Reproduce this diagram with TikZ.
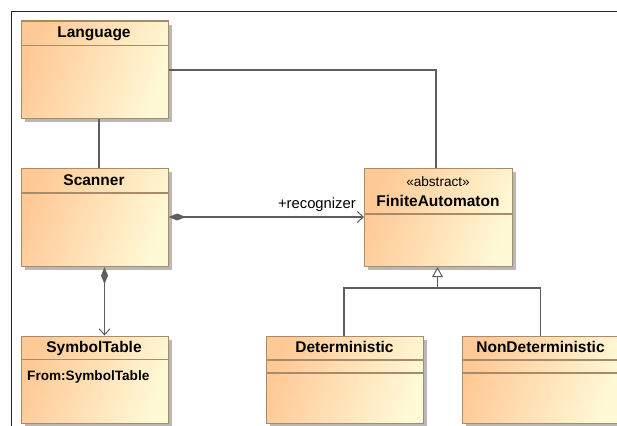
\documentclass[tikz,border=0pt]{standalone}
\usepackage{fontspec}
\setmainfont{Liberation Sans}
\usetikzlibrary{arrows.meta,shadows}

\definecolor{peach}{HTML}{FFC995}
\definecolor{cream}{HTML}{FFF9D6}
\definecolor{edge}{HTML}{A88B68}
\definecolor{wire}{HTML}{5E5E5E}
\definecolor{shade}{HTML}{B8B8B8}

\begin{document}
\begin{tikzpicture}[x=1pt,y=-1pt,
  classbox/.style={draw=edge, line width=1.1pt, inner sep=0pt, anchor=north west,
    left color=peach, right color=cream, shading angle=70,
    general shadow={fill=shade, shadow xshift=3.5pt, shadow yshift=-3.5pt}},
  sepline/.style={draw=edge, line width=1.1pt},
  cname/.style={font=\bfseries\fontsize{15.5}{18}\selectfont, inner sep=0pt, anchor=base},
  attr/.style={font=\bfseries\fontsize{13.6}{16}\selectfont, inner sep=0pt, anchor=base west},
  stereo/.style={font=\fontsize{13.6}{16}\selectfont, inner sep=0pt, anchor=base},
  rolelabel/.style={font=\fontsize{14.8}{17}\selectfont, inner sep=0pt, anchor=base east},
  link/.style={draw=wire, line width=1.3pt},
  comp/.style={link, {Diamond[length=17pt,width=7pt,fill=wire]}-{Straight Barb[length=6pt,width=11pt,line width=1pt]}},
  gen/.style={link, -{Triangle[open,length=10pt,width=11pt,fill=white,line width=1pt]}}
]
\clip (0,0) rectangle (617,425);
\fill[white] (0,0) rectangle (617,425);

% outer frame
\draw[line width=1pt, black!85] (11.5,430) -- (11.5,11.5) -- (630,11.5);

% classes
\node[classbox, minimum width=147pt, minimum height=97.5pt] (lang) at (20.5,20.5) {};
\draw[sepline] (20.5,45.5) -- (167.5,45.5);
\node[cname] (langname) at (94,38) {Language};

\node[classbox, minimum width=147pt, minimum height=98.5pt] (scan) at (20.5,167.5) {};
\draw[sepline] (20.5,193) -- (167.5,193);
\node[cname] (scanname) at (94,185) {Scanner};

\node[classbox, minimum width=147.5pt, minimum height=98pt] (fa) at (364,168) {};
\draw[sepline] (364,214) -- (511.5,214);
\node[stereo] (fastereo) at (438,186) {«abstract»};
\node[cname] (faname) at (438,206.7) {FiniteAutomaton};

\node[classbox, minimum width=147pt, minimum height=87.5pt] (symtab) at (20.5,335.5) {};
\draw[sepline] (20.5,359.5) -- (167.5,359.5);
\node[cname] (symname) at (94,352.7) {SymbolTable};
\node[attr] (symattr) at (27,380.7) {From:SymbolTable};

\node[classbox, minimum width=157pt, minimum height=87.5pt] (det) at (266,335.5) {};
\draw[sepline] (266,360) -- (423,360);
\draw[sepline] (266,373) -- (423,373);
\node[cname] (detname) at (344.5,352.7) {Deterministic};

\node[classbox, minimum width=157pt, minimum height=87.5pt] (ndet) at (462,335.5) {};
\draw[sepline] (462,360) -- (619,360);
\draw[sepline] (462,373) -- (619,373);
\node[cname] (ndetname) at (540.5,352.7) {NonDeterministic};

% associations
\draw[link] (lang.east |- 0,70) -- (436,70) -- (fa.north -| 436,0);
\draw[link] (lang.south -| 99,0) -- (scan.north -| 99,0);

\draw[comp] (scan.east |- 0,217) -- (fa.west |- 0,217);
\node[rolelabel] (role) at (356,208.3) {+recognizer};

\draw[comp] (scan.south -| 104.5,0) -- (symtab.north -| 104.5,0);

% generalization
\coordinate (fork) at (437.5,288);
\draw[link] (det.north -| 344,0) -- (344,288) -- (540.5,288) -- (ndet.north -| 540.5,0);
\draw[gen] (fork) -- (fa.south -| fork);
\end{tikzpicture}
\end{document}
